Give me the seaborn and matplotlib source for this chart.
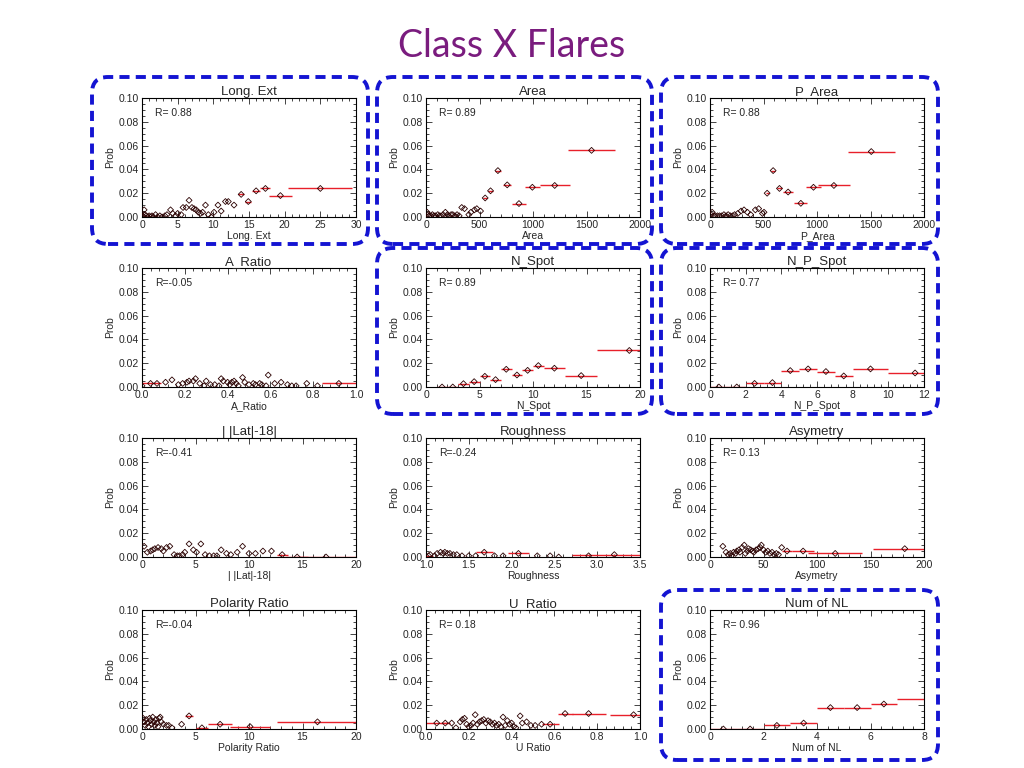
import numpy as np
import matplotlib
matplotlib.use("Agg")
import matplotlib.pyplot as plt
from matplotlib.patches import FancyBboxPatch
from matplotlib.ticker import AutoMinorLocator, MultipleLocator
import seaborn as sns

sns.set_style("ticks")
plt.rcParams['font.family'] = ['Liberation Sans', 'DejaVu Sans']

# ---------------- data ----------------
titles = ["Long. Ext", "Area", "P_Area",
          "A_Ratio", "N_Spot", "N_P_Spot",
          "| |Lat|-18|", "Roughness", "Asymetry",
          "Polarity Ratio", "U_Ratio", "Num of NL"]
xlabels = ["Long. Ext", "Area", "P_Area",
           "A_Ratio", "N_Spot", "N_P_Spot",
           "| |Lat|-18|", "Roughness", "Asymetry",
           "Polarity Ratio", "U Ratio", "Num of NL"]
r_values = ["0.88", "0.89", "0.88", "-0.05", "0.89", "0.77",
            "-0.41", "-0.24", "0.13", "-0.04", "0.18", "0.96"]
x_limits = [(0, 30), (0, 2000), (0, 2000), (0, 1), (0, 20), (0, 12),
            (0, 20), (1, 3.5), (0, 200), (0, 20), (0, 1), (0, 8)]
x_major = [5, 500, 500, 0.2, 5, 2, 5, 0.5, 50, 5, 0.2, 2]
highlighted = [True, True, True, False, True, True,
               False, False, False, False, False, True]

# scattered (narrow-bin) points
longext_x = [0.1, 0.2, 0.3, 0.4, 0.6, 0.8, 1.0, 1.2, 1.4, 1.6, 1.9, 2.2, 2.5, 2.8, 3.2, 3.5,
             4.0, 4.3, 4.7, 5.0, 5.5, 5.75, 6.2, 6.6, 7.0, 7.3, 7.6, 7.9, 8.2, 8.5, 8.9,
             9.3, 9.7, 10.1, 10.65, 11.1, 11.7, 12.1, 12.9]
longext_y = [0.001, 0.0, 0.006, 0.002, 0.001, 0.0, 0.001, 0.0, 0.001, 0.0, 0.002, 0.0, 0.001, 0.0, 0.001, 0.002,
             0.006, 0.003, 0.001, 0.003, 0.002, 0.008, 0.008, 0.014, 0.008, 0.007, 0.006, 0.004, 0.003, 0.004, 0.010,
             0.002, 0.0, 0.004, 0.010, 0.005, 0.013, 0.013, 0.010]
longext_bx = [13.9, 14.9, 16.0, 17.3, 19.4, 25.0]
longext_by = [0.019, 0.013, 0.022, 0.024, 0.018, 0.024]
longext_bw = [0.4, 0.4, 0.6, 0.7, 1.6, 4.5]

area_x = [10, 20, 30, 45, 60, 75, 90, 110, 125, 140, 160, 181, 200, 215, 235, 250, 270, 290, 310,
          334, 360, 400, 420, 453, 475, 510]
area_y = [0.004, 0.002, 0.001, 0.001, 0.002, 0.001, 0.001, 0.002, 0.001, 0.001, 0.002, 0.004, 0.002,
          0.001, 0.002, 0.002, 0.001, 0.002, 0.001, 0.008, 0.007, 0.002, 0.004, 0.006, 0.007, 0.005]
area_bx = [553, 603, 672, 759, 869, 994, 1203, 1547]
area_by = [0.016, 0.022, 0.039, 0.027, 0.0113, 0.025, 0.0265, 0.056]
area_bw = [20, 22, 25, 35, 62, 70, 141, 219]

parea_x = [10, 20, 35, 50, 70, 90, 110, 130, 150, 170, 190, 210, 230, 260, 290, 318, 350, 380,
           424, 455, 490, 505]
parea_y = [0.002, 0.004, 0.001, 0.001, 0.001, 0.001, 0.001, 0.002, 0.001, 0.002, 0.001, 0.001, 0.002,
           0.003, 0.005, 0.006, 0.004, 0.002, 0.006, 0.007, 0.003, 0.004]
parea_bx = [534, 590, 649, 730, 849, 967, 1158, 1507]
parea_by = [0.020, 0.039, 0.024, 0.021, 0.0115, 0.025, 0.0265, 0.055]
parea_bw = [15, 20, 25, 50, 60, 70, 148, 218]

aratio_x = [0.0, 0.07, 0.11, 0.14, 0.17, 0.19, 0.21, 0.22, 0.24, 0.25, 0.27, 0.29, 0.30, 0.32, 0.34,
            0.36, 0.37, 0.38, 0.40, 0.41, 0.42, 0.43, 0.44, 0.45, 0.47, 0.48, 0.50, 0.52, 0.53, 0.55,
            0.56, 0.58, 0.59, 0.62, 0.65, 0.68, 0.70, 0.72, 0.77, 0.82]
aratio_y = [0.001, 0.003, 0.004, 0.006, 0.002, 0.003, 0.004, 0.005, 0.005, 0.007, 0.003, 0.001, 0.005,
            0.002, 0.002, 0.001, 0.007, 0.005, 0.004, 0.002, 0.004, 0.005, 0.003, 0.001, 0.008, 0.004,
            0.002, 0.003, 0.002, 0.003, 0.002, 0.001, 0.010, 0.003, 0.004, 0.002, 0.001, 0.001, 0.003,
            0.001]
aratio_bx = [0.04, 0.92]
aratio_by = [0.003, 0.003]
aratio_bw = [0.05, 0.08]

nspot_x = []
nspot_y = []
nspot_bx = [1.5, 2.5, 3.5, 4.5, 5.5, 6.5, 7.5, 8.5, 9.5, 10.5, 12.0, 14.5, 19.0]
nspot_by = [0.0, 0.0, 0.0028, 0.0045, 0.009, 0.0062, 0.0149, 0.0101, 0.014, 0.018, 0.0158, 0.0096, 0.0307]
nspot_bw = [0.5, 0.5, 0.5, 0.5, 0.5, 0.5, 0.5, 0.5, 0.5, 0.5, 1.0, 1.5, 3.0]

npspot_x = []
npspot_y = []
npspot_bx = [0.5, 1.5, 2.5, 3.5, 4.5, 5.5, 6.5, 7.5, 9.0, 11.5]
npspot_by = [0.0, 0.0, 0.003, 0.0037, 0.0138, 0.0152, 0.013, 0.0093, 0.0152, 0.0118]
npspot_bw = [0.5, 0.5, 0.5, 0.5, 0.5, 0.5, 0.5, 0.5, 1.0, 1.5]

lat_x = [0.2, 0.5, 0.8, 1.0, 1.2, 1.5, 1.8, 2.0, 2.3, 2.6, 3.0, 3.3, 3.5, 3.8, 4.0, 4.4, 4.8, 5.1,
         5.5, 5.9, 6.3, 6.7, 7.0, 7.4, 7.9, 8.3, 8.9, 9.4, 10.0, 10.6, 11.3, 12.1]
lat_y = [0.009, 0.004, 0.005, 0.006, 0.007, 0.008, 0.007, 0.005, 0.008, 0.009, 0.002, 0.001, 0.001,
         0.002, 0.004, 0.011, 0.006, 0.004, 0.011, 0.002, 0.001, 0.001, 0.001, 0.006, 0.003, 0.002,
         0.004, 0.009, 0.003, 0.003, 0.005, 0.005]
lat_bx = [13.1, 14.5, 17.2]
lat_by = [0.002, 0.0, 0.0]
lat_bw = [0.5, 1.0, 2.8]

rough_x = [1.05, 1.10, 1.13, 1.17, 1.20, 1.22, 1.25, 1.28, 1.32, 1.36, 1.42, 1.50, 1.58, 1.80, 1.90,
           2.30, 2.45, 2.55, 2.90]
rough_y = [0.002, 0.001, 0.003, 0.004, 0.003, 0.004, 0.003, 0.003, 0.002, 0.002, 0.001, 0.001, 0.001,
           0.001, 0.001, 0.001, 0.001, 0.0, 0.001]
rough_bx = [1.03, 1.68, 2.08, 3.20]
rough_by = [0.001, 0.004, 0.003, 0.002]
rough_bw = [0.05, 0.1, 0.12, 0.5]

asym_x = [12, 15, 17, 19, 20, 22, 24, 25, 27, 28, 30, 32, 33, 35, 36, 38, 40, 41, 43, 45, 47, 48,
          50, 52, 54, 56, 58, 60, 62, 64, 67]
asym_y = [0.009, 0.004, 0.002, 0.003, 0.001, 0.004, 0.003, 0.005, 0.006, 0.004, 0.008, 0.010, 0.003,
          0.005, 0.007, 0.006, 0.005, 0.004, 0.006, 0.007, 0.008, 0.010, 0.006, 0.004, 0.005, 0.003,
          0.004, 0.002, 0.003, 0.002, 0.008]
asym_bx = [72, 87, 117, 182]
asym_by = [0.005, 0.005, 0.003, 0.007]
asym_bw = [5, 10, 25, 30]

pol_x = [0.1, 0.2, 0.3, 0.4, 0.5, 0.6, 0.7, 0.8, 0.9, 1.0, 1.1, 1.2, 1.3, 1.4, 1.5, 1.6, 1.7, 1.8,
         2.0, 2.3, 2.5, 2.8, 3.7]
pol_y = [0.009, 0.006, 0.003, 0.008, 0.005, 0.002, 0.009, 0.007, 0.004, 0.010, 0.006, 0.003, 0.008,
         0.005, 0.002, 0.009, 0.010, 0.006, 0.004, 0.003, 0.003, 0.001, 0.004]
pol_bx = [4.4, 5.6, 7.3, 10.1, 16.4]
pol_by = [0.011, 0.001, 0.004, 0.002, 0.006]
pol_bw = [0.4, 0.6, 1.15, 1.9, 3.8]

uratio_x = [0.12, 0.14, 0.16, 0.17, 0.18, 0.19, 0.20, 0.21, 0.22, 0.23, 0.24, 0.25, 0.26, 0.27, 0.28,
            0.29, 0.30, 0.31, 0.32, 0.33, 0.34, 0.35, 0.36, 0.37, 0.38, 0.39, 0.40, 0.41, 0.42, 0.44,
            0.45, 0.47, 0.49, 0.51, 0.54]
uratio_y = [0.005, 0.001, 0.006, 0.008, 0.009, 0.004, 0.002, 0.003, 0.005, 0.012, 0.004, 0.006, 0.007,
            0.008, 0.005, 0.007, 0.006, 0.004, 0.005, 0.003, 0.004, 0.002, 0.010, 0.003, 0.007, 0.004,
            0.005, 0.002, 0.001, 0.011, 0.005, 0.006, 0.003, 0.003, 0.004]
uratio_bx = [0.05, 0.09, 0.58, 0.65, 0.76, 0.97]
uratio_by = [0.005, 0.005, 0.004, 0.013, 0.013, 0.012]
uratio_bw = [0.05, 0.02, 0.04, 0.035, 0.08, 0.11]

numnl_x = []
numnl_y = []
numnl_bx = [0.5, 1.5, 2.5, 3.5, 4.5, 5.5, 6.5, 8.5]
numnl_by = [0.0, 0.0, 0.003, 0.005, 0.018, 0.018, 0.021, 0.025]
numnl_bw = [0.5, 0.5, 0.5, 0.5, 0.5, 0.5, 0.5, 1.5]

panels = [
    (longext_x, longext_y, longext_bx, longext_by, longext_bw),
    (area_x, area_y, area_bx, area_by, area_bw),
    (parea_x, parea_y, parea_bx, parea_by, parea_bw),
    (aratio_x, aratio_y, aratio_bx, aratio_by, aratio_bw),
    (nspot_x, nspot_y, nspot_bx, nspot_by, nspot_bw),
    (npspot_x, npspot_y, npspot_bx, npspot_by, npspot_bw),
    (lat_x, lat_y, lat_bx, lat_by, lat_bw),
    (rough_x, rough_y, rough_bx, rough_by, rough_bw),
    (asym_x, asym_y, asym_bx, asym_by, asym_bw),
    (pol_x, pol_y, pol_bx, pol_by, pol_bw),
    (uratio_x, uratio_y, uratio_bx, uratio_by, uratio_bw),
    (numnl_x, numnl_y, numnl_bx, numnl_by, numnl_bw),
]

# ---------------- layout ----------------
W, H = 1024, 768
fig = plt.figure(figsize=(W / 100, H / 100), dpi=100)
fig.patch.set_facecolor("white")

col_left = [142, 426, 710]
row_top = [98, 268, 438, 610]
ax_w, ax_h = 214, 119

fig.text(0.5, 1 - 46 / H, "Class X Flares", ha="center", va="center",
         fontsize=27, color="#7a1c7e", family=["Lato", "DejaVu Sans"])

for i, (px, py, bx, by, bw) in enumerate(panels):
    r, c = divmod(i, 3)
    left = col_left[c] / W
    bottom = 1 - (row_top[r] + ax_h) / H
    ax = fig.add_axes([left, bottom, ax_w / W, ax_h / H])

    # bins with horizontal extent (red)
    ax.errorbar(bx, by, xerr=bw, fmt="none", ecolor="#e8202a", elinewidth=1.0, capsize=0, zorder=2)
    allx = list(px) + list(bx)
    ally = list(py) + list(by)
    sns.scatterplot(x=allx, y=ally, marker="D", s=9, facecolor="none",
                    edgecolor="#2a0000", linewidth=0.6, ax=ax, zorder=3)

    ax.set_xlim(*x_limits[i])
    ax.set_ylim(0, 0.10)
    ax.xaxis.set_major_locator(MultipleLocator(x_major[i]))
    ax.yaxis.set_major_locator(MultipleLocator(0.02))
    ax.xaxis.set_minor_locator(AutoMinorLocator(5))
    ax.yaxis.set_minor_locator(AutoMinorLocator(4))
    ax.yaxis.set_major_formatter(matplotlib.ticker.FormatStrFormatter("%.2f"))
    if x_major[i] < 1:
        ax.xaxis.set_major_formatter(matplotlib.ticker.FormatStrFormatter("%.1f"))
    else:
        ax.xaxis.set_major_formatter(matplotlib.ticker.FormatStrFormatter("%g"))
    ax.tick_params(which="both", direction="in", top=True, right=True, labelsize=7.5,
                   width=0.6, pad=2)
    ax.tick_params(which="major", length=4)
    ax.tick_params(which="minor", length=2)
    for s in ax.spines.values():
        s.set_linewidth(0.8)
        s.set_color("black")
    ax.set_title(titles[i], fontsize=9.5, pad=2)
    ax.set_xlabel(xlabels[i], fontsize=7.5, labelpad=1)
    ax.set_ylabel("Prob", fontsize=7.5, labelpad=3)
    ax.text(0.06, 0.87, "R= " + r_values[i] if not r_values[i].startswith("-") else "R=" + r_values[i],
            transform=ax.transAxes, fontsize=7.5, ha="left", va="center")

# dashed rounded highlight boxes (pixel coordinates, converted to inches)
col_box = [(92, 368), (377, 652), (661, 938)]
row_box = [(77, 244), (248, 414), (420, 586), (590, 760)]
for i, flag in enumerate(highlighted):
    if not flag:
        continue
    r, c = divmod(i, 3)
    x0, x1 = col_box[c]
    y0, y1 = row_box[r]
    patch = FancyBboxPatch(((x0) / 100, (H - y1) / 100), (x1 - x0) / 100, (y1 - y0) / 100,
                           boxstyle="round,pad=0,rounding_size=0.16",
                           transform=fig.dpi_scale_trans, fill=False,
                           edgecolor="#1414d2", linewidth=2.8, linestyle=(0, (2.6, 1.6)))
    fig.add_artist(patch)

fig.savefig("out.png", dpi=100)
